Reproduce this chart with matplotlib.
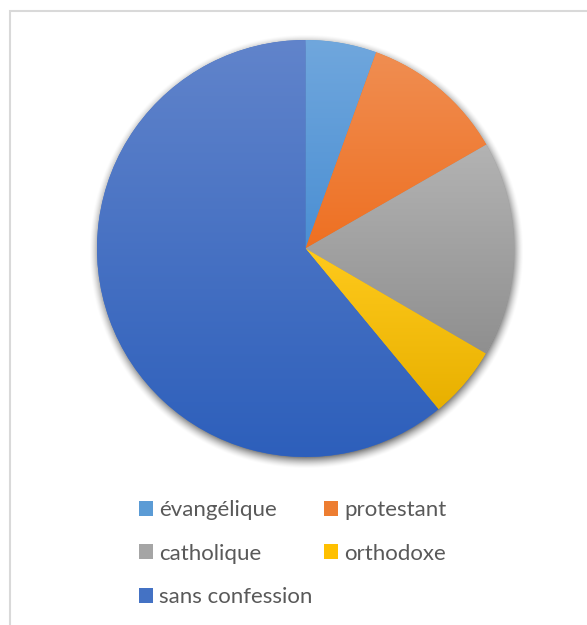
import numpy as np
import matplotlib.pyplot as plt
from matplotlib.colors import to_rgb
from matplotlib.patches import Rectangle

# Répartition par confession (%)
confessions = ['évangélique', 'protestant', 'catholique', 'orthodoxe', 'sans confession']
parts = [5.5, 11.2, 16.7, 5.6, 61.0]

# dégradé vertical de chaque part : haut clair -> bas foncé
couleurs_haut = ['#70a7dd', '#f08e52', '#b3b3b3', '#ffca1c', '#6184cb']
couleurs_bas = ['#4b8fd3', '#ee7022', '#8f8f8f', '#e8b000', '#2d5fbb']
couleurs_mid = ['#5b9bd5', '#ed7d31', '#a5a5a5', '#ffc000', '#4472c4']

W, H = 587, 625
fig = plt.figure(figsize=(W / 100, H / 100), dpi=100)
ax = fig.add_axes([0, 0, 1, 1])

cx, cy, r = 305.5, H - 248.5, 208.5

# ombre douce sous le camembert
yy, xx = np.mgrid[0:H, 0:W] + 0.5
d = np.hypot(xx - (cx + 1), yy - (cy - 3))
a = np.clip((r + 9 - d) / 13, 0, 1) ** 1.6 * 0.6
ombre = np.zeros((H, W, 4))
ombre[..., 3] = a
ax.imshow(ombre, extent=(0, W, 0, H), origin='lower', zorder=0, interpolation='bilinear')

wedges, _ = ax.pie(parts, startangle=90, counterclock=False, center=(cx, cy), radius=r,
                   colors=couleurs_mid, wedgeprops=dict(linewidth=0))

for w, c_top, c_bot in zip(wedges, couleurs_haut, couleurs_bas):
    w.set_zorder(1)
    v = w.get_path().vertices
    y0, y1 = v[:, 1].min(), v[:, 1].max()
    t = np.linspace(0, 1, 256)[:, None]
    grad = (1 - t) * np.array(to_rgb(c_top)) + t * np.array(to_rgb(c_bot))
    grad = grad[:, None, :]
    im = ax.imshow(grad, extent=(cx - r, cx + r, y0, y1), origin='upper',
                   aspect='auto', zorder=2, interpolation='bilinear')
    im.set_clip_path(w)

ax.set_xlim(0, W)
ax.set_ylim(0, H)
ax.set_aspect('auto')
ax.axis('off')

# cadre de la zone graphique
ax.add_patch(Rectangle((10, -20), W + 40, H - 11 + 20, fill=False,
                       edgecolor='#d9d9d9', linewidth=1.5, zorder=3, clip_on=False))

ordre = [0, 2, 4, 1, 3]
fs = 16
fig.legend([wedges[i] for i in ordre], [confessions[i] for i in ordre],
           loc='upper left', bbox_to_anchor=(139 / W, 1 - 500 / H), ncol=2,
           frameon=False, prop={'family': 'Lato', 'size': fs}, labelcolor='#595959',
           handlelength=0.62, handleheight=0.66, handletextpad=0.28,
           columnspacing=0.52, labelspacing=1.06, borderpad=0, borderaxespad=0)

fig.savefig('out.png', dpi=100, facecolor='white')
